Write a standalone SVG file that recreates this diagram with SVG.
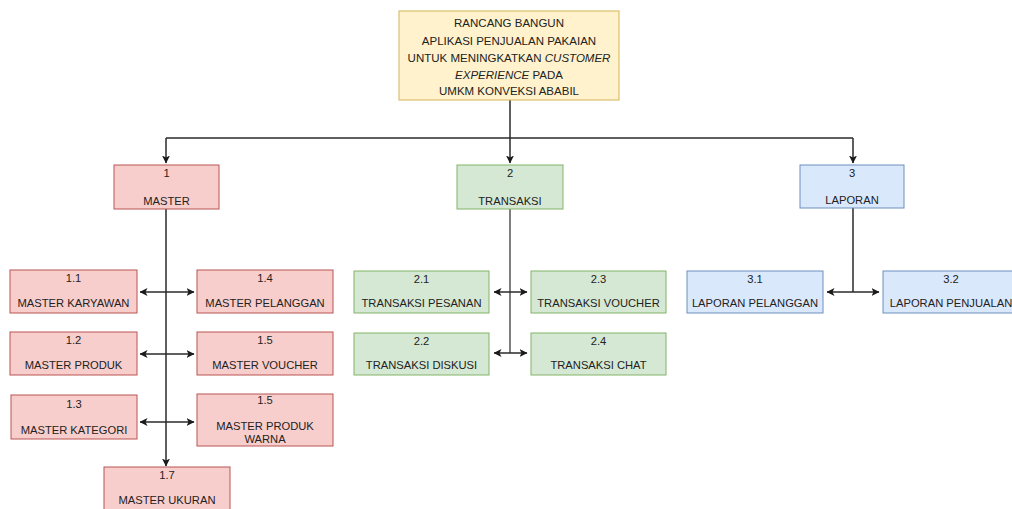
<svg xmlns="http://www.w3.org/2000/svg" width="1012" height="509" viewBox="0 0 1012 509">
  <defs>
    <marker id="arrow" viewBox="0 0 8 8" refX="7.5" refY="4" markerWidth="8" markerHeight="8" markerUnits="userSpaceOnUse" orient="auto-start-reverse">
      <path d="M0,0 L8,4 L0,8 L2,4 z" fill="#1a1a1a"/>
    </marker>
    <style>
      .lbl { font-family: "Liberation Sans", Arial, sans-serif; font-size: 11.2px; fill: #222222; text-anchor: middle; }
      .title { font-family: "Liberation Sans", Arial, sans-serif; font-size: 11.5px; fill: #222222; text-anchor: middle; }
      .red { fill: #f8cecc; stroke: #b85450; stroke-width: 1; }
      .green { fill: #d5e8d4; stroke: #82b366; stroke-width: 1; }
      .blue { fill: #dae8fc; stroke: #6c8ebf; stroke-width: 1; }
      .yellow { fill: #fff2cc; stroke: #d6b656; stroke-width: 1; }
      .edge { fill: none; stroke: #2a2a2a; stroke-width: 1.5; }
      .both { marker-start: url(#arrow); marker-end: url(#arrow); }
      .end { marker-end: url(#arrow); }
    </style>
  </defs>
  <rect width="1012" height="509" fill="#ffffff"/>

  <!-- connectors -->
  <g id="connectors">
    <path class="edge end" d="M510,100 V163"/>
    <path class="edge" d="M166,138 H853"/>
    <path class="edge end" d="M166,138 V163"/>
    <path class="edge end" d="M853,138 V163"/>

    <path class="edge end" d="M166,209 V466"/>
    <path class="edge both" d="M140,292 H194"/>
    <path class="edge both" d="M140,354 H194"/>
    <path class="edge both" d="M140,422 H194"/>

    <path class="edge" d="M510,209 V353" style="stroke:#555"/>
    <path class="edge both" d="M494,292 H527"/>
    <path class="edge both" d="M494,353 H527"/>

    <path class="edge" d="M853,208 V292"/>
    <path class="edge both" d="M827,292 H879"/>
  </g>

  <!-- root -->
  <g id="root">
    <rect class="yellow" x="399" y="11" width="220" height="89"/>
    <text class="title" x="509" y="27">RANCANG BANGUN</text>
    <text class="title" x="509" y="45">APLIKASI PENJUALAN PAKAIAN</text>
    <text class="title" x="509" y="62">UNTUK MENINGKATKAN <tspan font-style="italic">CUSTOMER</tspan></text>
    <text class="title" x="509" y="79"><tspan font-style="italic">EXPERIENCE</tspan> PADA</text>
    <text class="title" x="509" y="95">UMKM KONVEKSI ABABIL</text>
  </g>

  <!-- level 1 -->
  <g id="n1">
    <rect class="red" x="114" y="165" width="105" height="44"/>
    <text class="lbl" x="166.5" y="177">1</text>
    <text class="lbl" x="166.5" y="205">MASTER</text>
  </g>
  <g id="n2">
    <rect class="green" x="457" y="165" width="106" height="44"/>
    <text class="lbl" x="510" y="177">2</text>
    <text class="lbl" x="510" y="205">TRANSAKSI</text>
  </g>
  <g id="n3">
    <rect class="blue" x="800" y="165" width="104" height="43"/>
    <text class="lbl" x="852" y="177">3</text>
    <text class="lbl" x="852" y="204">LAPORAN</text>
  </g>

  <!-- master children -->
  <g id="n1-1">
    <rect class="red" x="10" y="270" width="127" height="43"/>
    <text class="lbl" x="73.5" y="282">1.1</text>
    <text class="lbl" x="73.5" y="307">MASTER KARYAWAN</text>
  </g>
  <g id="n1-2">
    <rect class="red" x="10" y="332" width="127" height="43"/>
    <text class="lbl" x="73.5" y="344">1.2</text>
    <text class="lbl" x="73.5" y="369">MASTER PRODUK</text>
  </g>
  <g id="n1-3">
    <rect class="red" x="11" y="395" width="126" height="44"/>
    <text class="lbl" x="74" y="408">1.3</text>
    <text class="lbl" x="74" y="434">MASTER KATEGORI</text>
  </g>
  <g id="n1-4">
    <rect class="red" x="197" y="270" width="136" height="43"/>
    <text class="lbl" x="265" y="282">1.4</text>
    <text class="lbl" x="265" y="307">MASTER PELANGGAN</text>
  </g>
  <g id="n1-5">
    <rect class="red" x="197" y="332" width="136" height="43"/>
    <text class="lbl" x="265" y="344">1.5</text>
    <text class="lbl" x="265" y="369">MASTER VOUCHER</text>
  </g>
  <g id="n1-6">
    <rect class="red" x="197" y="394" width="136" height="52"/>
    <text class="lbl" x="265" y="404">1.5</text>
    <text class="lbl" x="265" y="430">MASTER PRODUK</text>
    <text class="lbl" x="265" y="443">WARNA</text>
  </g>
  <g id="n1-7">
    <rect class="red" x="104" y="467" width="126" height="44"/>
    <text class="lbl" x="167" y="479">1.7</text>
    <text class="lbl" x="167" y="504">MASTER UKURAN</text>
  </g>

  <!-- transaksi children -->
  <g id="n2-1">
    <rect class="green" x="354" y="271" width="135" height="42"/>
    <text class="lbl" x="421.5" y="283">2.1</text>
    <text class="lbl" x="421.5" y="307">TRANSAKSI PESANAN</text>
  </g>
  <g id="n2-2">
    <rect class="green" x="354" y="333" width="135" height="42"/>
    <text class="lbl" x="421.5" y="345">2.2</text>
    <text class="lbl" x="421.5" y="369">TRANSAKSI DISKUSI</text>
  </g>
  <g id="n2-3">
    <rect class="green" x="531" y="271" width="135" height="42"/>
    <text class="lbl" x="598.5" y="283">2.3</text>
    <text class="lbl" x="598.5" y="307">TRANSAKSI VOUCHER</text>
  </g>
  <g id="n2-4">
    <rect class="green" x="531" y="333" width="135" height="42"/>
    <text class="lbl" x="598.5" y="345">2.4</text>
    <text class="lbl" x="598.5" y="369">TRANSAKSI CHAT</text>
  </g>

  <!-- laporan children -->
  <g id="n3-1">
    <rect class="blue" x="687" y="271" width="136" height="42"/>
    <text class="lbl" x="755" y="283">3.1</text>
    <text class="lbl" x="755" y="307">LAPORAN PELANGGAN</text>
  </g>
  <g id="n3-2">
    <rect class="blue" x="883" y="271" width="136" height="42"/>
    <text class="lbl" x="951" y="283">3.2</text>
    <text class="lbl" x="951" y="307">LAPORAN PENJUALAN</text>
  </g>
</svg>
